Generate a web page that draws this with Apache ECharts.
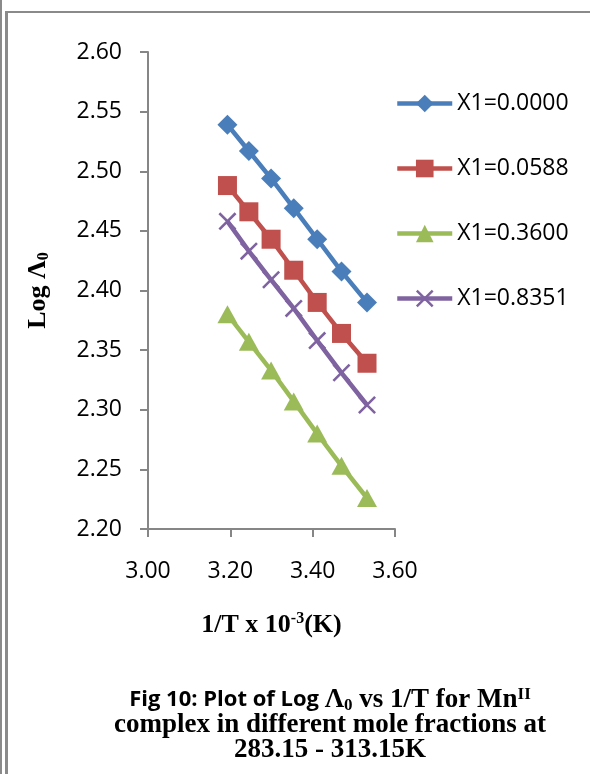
<!DOCTYPE html>
<html>
<head>
<meta charset="utf-8">
<script src="https://cdn.jsdelivr.net/npm/echarts@6.0.0/dist/echarts.min.js"></script>
<style>
  html, body { margin: 0; padding: 0; background: #ffffff; }
  #chart { width: 590px; height: 774px; }
</style>
</head>
<body>
<div id="chart"></div>
<script>
// 1/T (x 10^-3 K^-1) for 313.15 ... 283.15 K
const invT = [3.193, 3.245, 3.299, 3.354, 3.411, 3.470, 3.532];

// Log Λ0 for each mole fraction X1
const seriesNames = ['X1=0.0000', 'X1=0.0588', 'X1=0.3600', 'X1=0.8351'];
const logL_00000 = [2.539, 2.517, 2.494, 2.469, 2.443, 2.416, 2.390];
const logL_00588 = [2.488, 2.466, 2.443, 2.417, 2.390, 2.364, 2.339];
const logL_03600 = [2.380, 2.357, 2.333, 2.307, 2.280, 2.253, 2.226];
const logL_08351 = [2.458, 2.433, 2.409, 2.385, 2.358, 2.331, 2.304];

// axis ranges / tick labels
const xTicks = [3.00, 3.20, 3.40, 3.60];
const yTicks = [2.20, 2.25, 2.30, 2.35, 2.40, 2.45, 2.50, 2.55, 2.60];

const colors = ['#4a7ebb', '#c0504d', '#9bbb59', '#7f63a1'];
const symbols = [
  'diamond',
  'rect',
  'triangle',
  // thin saltire cross
  'path://M0,1 L1,0 L10,9 L9,10 Z M9,0 L10,1 L1,10 L0,9 Z'
];
const symbolSizes = [[20, 20], 19, [20, 18], 18];
const values = [logL_00000, logL_00588, logL_03600, logL_08351];

const serif = "'Liberation Serif', 'Times New Roman', serif";
const sans = "'Open Sans', 'Noto Sans', sans-serif";
const axisGray = '#868686';

const series = seriesNames.map((name, i) => ({
  name,
  type: 'line',
  data: invT.map((x, k) => [x, values[i][k]]),
  symbol: symbols[i],
  symbolSize: symbolSizes[i],
  showAllSymbol: true,
  lineStyle: { color: colors[i], width: 4.5 },
  itemStyle: { color: colors[i] },
  emphasis: { disabled: true },
  animation: false
}));

const richSerif = {
  r:   { fontFamily: serif, fontWeight: 'bold', fontSize: 26, lineHeight: 28, color: '#000' },
  sub: { fontFamily: serif, fontWeight: 'bold', fontSize: 16, lineHeight: 16, verticalAlign: 'bottom', color: '#000' },
  sup: { fontFamily: serif, fontWeight: 'bold', fontSize: 16, lineHeight: 16, verticalAlign: 'top', color: '#000' }
};

const captionRich = {
  s:   { fontFamily: sans, fontWeight: 'bold', fontSize: 22, lineHeight: 28, fill: '#000' },
  r:   { fontFamily: serif, fontWeight: 'bold', fontSize: 27, lineHeight: 28, fill: '#000' },
  sub: { fontFamily: serif, fontWeight: 'bold', fontSize: 17, lineHeight: 17, verticalAlign: 'bottom', fill: '#000' },
  sup: { fontFamily: serif, fontWeight: 'bold', fontSize: 17, lineHeight: 17, verticalAlign: 'top', fill: '#000' }
};

const chart = echarts.init(document.getElementById('chart'), null, { renderer: 'canvas' });

chart.setOption({
  backgroundColor: '#ffffff',
  animation: false,
  grid: { left: 148, right: 195, top: 52, bottom: 245, containLabel: false },
  xAxis: {
    type: 'value',
    min: xTicks[0],
    max: xTicks[xTicks.length - 1],
    interval: 0.2,
    name: '{r|1/T x 10}{sup|-3}{r|(K)}',
    nameLocation: 'middle',
    nameGap: 82,
    nameTextStyle: { rich: richSerif },
    axisLine: { show: true, onZero: false, lineStyle: { color: axisGray, width: 2 } },
    axisTick: { show: true, inside: false, length: 8, lineStyle: { color: axisGray, width: 2 } },
    axisLabel: {
      margin: 31,
      fontFamily: sans,
      fontSize: 23,
      color: '#000',
      formatter: v => v.toFixed(2)
    },
    splitLine: { show: false }
  },
  yAxis: {
    type: 'value',
    min: yTicks[0],
    max: yTicks[yTicks.length - 1],
    interval: 0.05,
    name: '{r|Log Λ}{sub|0}',
    nameLocation: 'middle',
    nameRotate: 90,
    nameGap: 96,
    nameTextStyle: { rich: richSerif },
    axisLine: { show: true, onZero: false, lineStyle: { color: axisGray, width: 2 } },
    axisTick: { show: true, inside: false, length: 8, lineStyle: { color: axisGray, width: 2 } },
    axisLabel: {
      margin: 26,
      fontFamily: sans,
      fontSize: 23,
      color: '#000',
      formatter: v => v.toFixed(2)
    },
    splitLine: { show: false }
  },
  legend: {
    orient: 'vertical',
    left: 390,
    top: 87,
    padding: 5,
    itemWidth: 55,
    itemHeight: 22,
    itemGap: 42,
    selectedMode: false,
    data: seriesNames,
    lineStyle: { width: 4.5 },
    textStyle: { fontFamily: sans, fontSize: 23, color: '#000' }
  },
  graphic: [
    // page frame
    { type: 'rect', shape: { x: 0, y: 0, width: 2, height: 774 }, style: { fill: '#8a8a8a' }, silent: true },
    { type: 'rect', shape: { x: 5, y: 11, width: 3, height: 763 }, style: { fill: '#8a8a8a' }, silent: true },
    { type: 'rect', shape: { x: 5, y: 11, width: 585, height: 2 }, style: { fill: '#8a8a8a' }, silent: true },
    // figure caption
    {
      type: 'text', x: 330, y: 700, silent: true,
      style: {
        text: '{s|Fig 10: Plot of Log }{r|Λ}{sub|0}{r| vs 1/T for Mn}{sup|II}',
        textAlign: 'center', textVerticalAlign: 'middle', fill: '#000', rich: captionRich
      }
    },
    {
      type: 'text', x: 330, y: 725, silent: true,
      style: {
        text: '{r|complex in different mole fractions at}',
        textAlign: 'center', textVerticalAlign: 'middle', fill: '#000', rich: captionRich
      }
    },
    {
      type: 'text', x: 330, y: 750, silent: true,
      style: {
        text: '{r|283.15 - 313.15K}',
        textAlign: 'center', textVerticalAlign: 'middle', fill: '#000', rich: captionRich
      }
    }
  ],
  series
});
</script>
</body>
</html>
